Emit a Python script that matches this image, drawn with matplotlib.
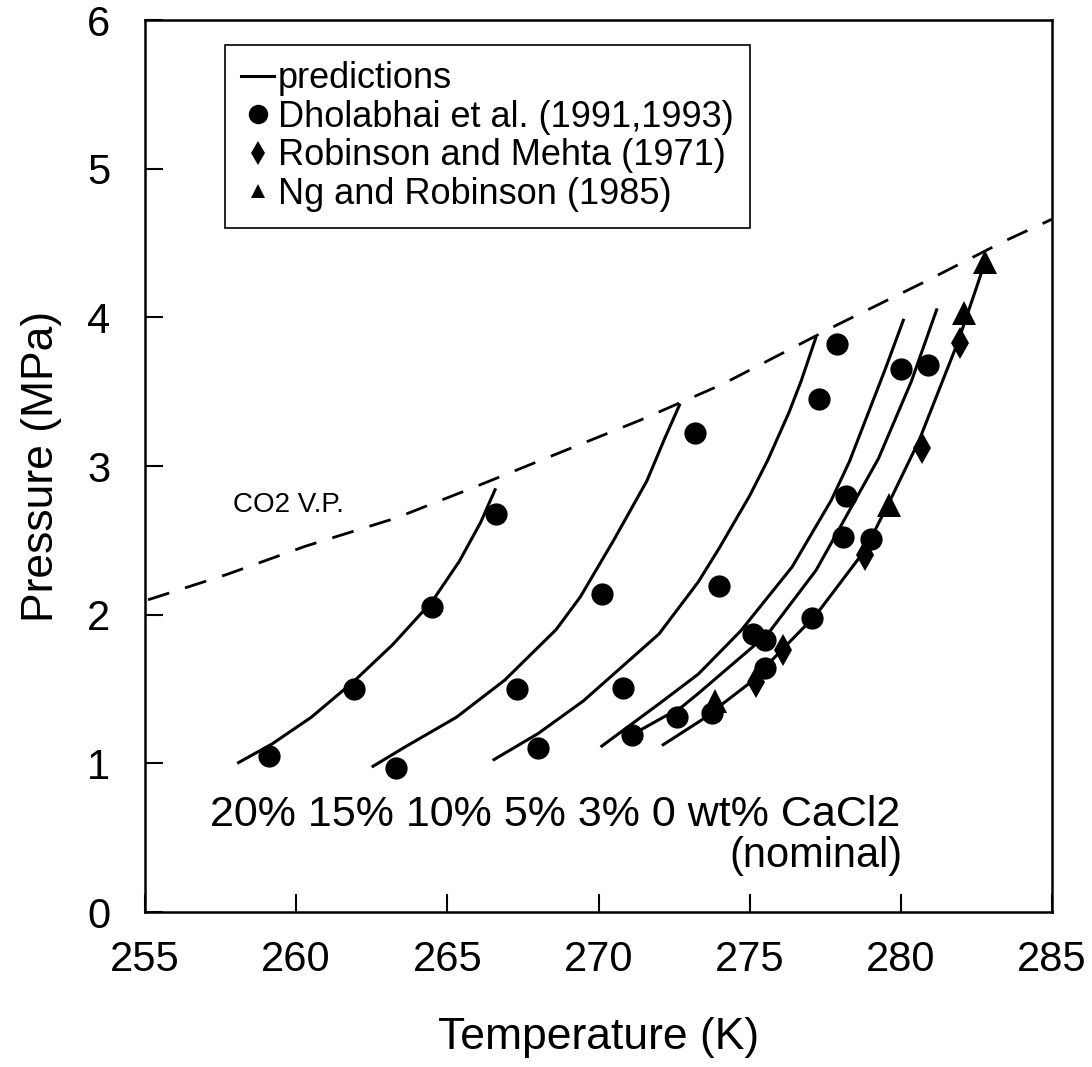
import matplotlib
matplotlib.use("Agg")
import matplotlib.pyplot as plt
from matplotlib.lines import Line2D

plt.rcParams['font.family'] = ['Liberation Sans', 'DejaVu Sans']

# ---- data ----
# Dholabhai et al. (1991,1993) - circles
dh_T = [259.1, 261.9, 264.5, 266.6, 263.3, 267.3, 270.1, 273.2, 268.0, 270.8, 274.0,
        277.3, 277.9, 271.1, 272.6, 273.75, 275.1, 275.5, 275.5, 277.05, 278.2, 278.1,
        279.0, 280.0, 280.9]
dh_P = [1.05, 1.50, 2.05, 2.68, 0.97, 1.50, 2.14, 3.22, 1.10, 1.51, 2.19,
        3.45, 3.82, 1.19, 1.31, 1.34, 1.87, 1.83, 1.64, 1.98, 2.80, 2.52,
        2.51, 3.65, 3.68]
# Robinson and Mehta (1971) - diamonds
rm_T = [275.2, 276.1, 278.8, 280.7, 281.95]
rm_P = [1.55, 1.76, 2.40, 3.12, 3.83]
# Ng and Robinson (1985) - triangles
ng_T = [273.85, 279.6, 282.1, 282.8]
ng_P = [1.42, 2.74, 4.03, 4.37]

# prediction curves (wt% CaCl2)
c20_T = [258.05, 259.2, 260.5, 261.9, 263.2, 264.5, 265.4, 266.1, 266.6]
c20_P = [1.00, 1.13, 1.31, 1.55, 1.80, 2.09, 2.36, 2.62, 2.85]
c15_T = [262.5, 263.6, 265.3, 266.9, 268.6, 269.4, 270.5, 271.6, 272.2, 272.7]
c15_P = [0.975, 1.11, 1.31, 1.56, 1.90, 2.12, 2.50, 2.90, 3.19, 3.42]
c10_T = [266.5, 268.0, 269.5, 271.0, 272.0, 273.3, 274.0, 275.0, 275.6, 276.3, 276.7, 277.2]
c10_P = [1.02, 1.20, 1.42, 1.69, 1.87, 2.22, 2.45, 2.80, 3.04, 3.36, 3.57, 3.87]
c5_T = [270.07, 272.0, 273.3, 274.7, 276.4, 277.7, 278.3, 279.5, 280.1]
c5_P = [1.11, 1.40, 1.60, 1.89, 2.32, 2.77, 3.03, 3.66, 3.99]
c3_T = [271.0, 272.76, 273.3, 275.6, 277.2, 278.6, 279.26, 280.35, 281.2]
c3_P = [1.18, 1.38, 1.47, 1.87, 2.30, 2.81, 3.05, 3.57, 4.06]
c0_T = [272.1, 273.4, 275.0, 277.2, 278.8, 279.6, 280.6, 281.9, 282.8]
c0_P = [1.12, 1.29, 1.54, 2.00, 2.43, 2.75, 3.17, 3.84, 4.38]
curves = [(c20_T, c20_P), (c15_T, c15_P), (c10_T, c10_P),
          (c5_T, c5_P), (c3_T, c3_P), (c0_T, c0_P)]

# CO2 vapour pressure (dashed)
vp_T = [255.1, 257.7, 260.3, 263.3, 265.8, 268.6, 271.4, 274.1, 277.9, 280.8, 283.4, 285.0]
vp_P = [2.10, 2.27, 2.46, 2.65, 2.85, 3.08, 3.31, 3.55, 3.95, 4.24, 4.51, 4.66]

x_ticks = [255, 260, 265, 270, 275, 280, 285]
y_ticks = [0, 1, 2, 3, 4, 5, 6]
legend_labels = ["predictions", "Dholabhai et al. (1991,1993)",
                 "Robinson and Mehta (1971)", "Ng and Robinson (1985)"]

# ---- figure ----
W, H = 1092, 1067
fig = plt.figure(figsize=(W / 100, H / 100), dpi=100)
ax = fig.add_axes([145 / W, (H - 912) / H, (1052 - 145) / W, (912 - 20) / H])

for T, P in curves:
    ax.plot(T, P, color='black', lw=2.2, solid_capstyle='butt',
            solid_joinstyle='round', zorder=2)
ax.plot(vp_T, vp_P, color='black', lw=2.0, dashes=(8, 6), zorder=2)

ax.plot(dh_T, dh_P, 'o', color='black', ms=16, mew=0, zorder=3)
ax.plot(rm_T, rm_P, 'd', color='black', ms=16, mew=0, zorder=3)
ax.plot(ng_T, ng_P, '^', color='black', ms=17, mew=0, zorder=3)

ax.set_xlim(255, 285)
ax.set_ylim(0, 6)
ax.set_xticks(x_ticks)
ax.set_yticks(y_ticks)
ax.set_xticklabels([str(v) for v in x_ticks])
ax.set_yticklabels([str(v) for v in y_ticks])
ax.tick_params(direction='in', length=13, width=1.5, labelsize=30, colors='black')
ax.tick_params(axis='x', pad=20)
ax.tick_params(axis='y', pad=25)
for s in ax.spines.values():
    s.set_linewidth(1.8)
    s.set_color('black')

ax.set_xlabel("Temperature (K)", fontsize=32)
ax.set_ylabel("Pressure (MPa)", fontsize=32)
ax.xaxis.set_label_coords(0.5, -0.118)
ax.yaxis.set_label_coords(-0.092, 0.5)

ax.text(257.9, 2.74, "CO2 V.P.", fontsize=20, ha='left', va='center')
ax.text(268.55, 0.652, "20% 15% 10% 5% 3% 0 wt% CaCl2", fontsize=31,
        ha='center', va='center')
ax.text(280.07, 0.38, "(nominal)", fontsize=30, ha='right', va='center')

handles = [
    Line2D([], [], color='black', lw=2.2),
    Line2D([], [], marker='o', ls='none', color='black', ms=14, mew=0),
    Line2D([], [], marker='d', ls='none', color='black', ms=12, mew=0),
    Line2D([], [], marker='^', ls='none', color='black', ms=10, mew=0),
]
leg = ax.legend(handles, legend_labels, loc='upper left',
                bbox_to_anchor=((225 - 145) / 907, (912 - 45) / 892),
                borderaxespad=0, fontsize=26, frameon=True, fancybox=False,
                edgecolor='black', framealpha=1, handlelength=0.9,
                handletextpad=0.12, labelspacing=0.1, borderpad=0.45)
leg.get_frame().set_linewidth(1.2)

fig.savefig("out.png", dpi=100)
